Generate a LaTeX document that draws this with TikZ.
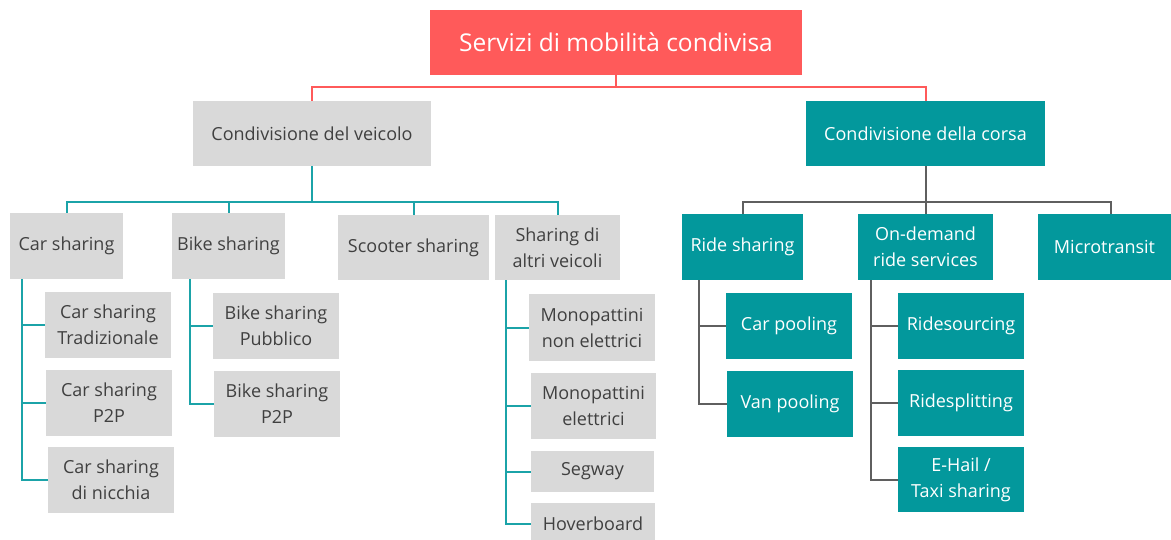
\documentclass[tikz,border=0pt]{standalone}
\usepackage{fontspec}
\setmainfont{Open Sans}
\usepackage{tikz}
\usetikzlibrary{calc}
\definecolor{rosso}{HTML}{FF5A5A}
\definecolor{grigio}{HTML}{D9D9D9}
\definecolor{verde}{HTML}{03989C}
\definecolor{testo}{HTML}{404040}
\definecolor{lineaverde}{HTML}{1BA3A8}
\definecolor{lineagrigia}{HTML}{5F5F5F}
\tikzset{
  boxbase/.style={rectangle, inner sep=0pt, align=center, font=\fontsize{18}{26}\selectfont, minimum height=66pt},
  greybox/.style={boxbase, fill=grigio, text=testo},
  tealbox/.style={boxbase, fill=verde, text=white},
  rootbox/.style={boxbase, fill=rosso, text=white, font=\fontsize{24.5}{28}\selectfont},
  redline/.style={draw=rosso, line width=2pt},
  tealline/.style={draw=lineaverde, line width=2pt},
  greyline/.style={draw=lineagrigia, line width=2pt}
}
\begin{document}
\begin{tikzpicture}[x=1pt,y=-1pt]
        \useasboundingbox[fill=white] (0,0) rectangle (1171,539);

        % Radice
        \node[rootbox, minimum width=372pt, minimum height=65pt] (root) at (616,42.5) {Servizi di mobilità condivisa};
        \node[greybox, minimum width=238pt, minimum height=65pt] (cv) at (312,133.5) {Condivisione del veicolo};
        \node[tealbox, minimum width=239pt, minimum height=65pt] (cc) at (925.5,133.5) {Condivisione della corsa};
        \draw[redline] (root.south) -- ++(0,12) -| (cv.north);
        \draw[redline] (root.south) -- ++(0,12) -| (cc.north);

        % Condivisione del veicolo
        \node[greybox, minimum width=113pt] (cs) at (66.5,246) {Car sharing};
        \node[greybox, minimum width=113pt] (bs) at (228.5,246) {Bike sharing};
        \node[greybox, minimum width=151pt, minimum height=65pt] (ss) at (413.5,247.5) {Scooter sharing};
        \node[greybox, minimum width=125pt, minimum height=65pt] (sa) at (557.5,247.5) {Sharing di\\altri veicoli};
        \foreach \n in {cs,bs,ss,sa}
            \draw[tealline] (cv.south) -- ++(0,36) -| (\n.north);

        \node[greybox, minimum width=126pt] (cs1) at (108,325) {Car sharing\\Tradizionale};
        \node[greybox, minimum width=126pt] (cs2) at (109,403) {Car sharing\\P2P};
        \node[greybox, minimum width=126pt] (cs3) at (111,480) {Car sharing\\di nicchia};
        \foreach \n in {cs1,cs2,cs3}
            \draw[tealline] ([xshift=12pt]cs.south west) |- (\n.west);

        \node[greybox, minimum width=126pt] (bs1) at (276,325.5) {Bike sharing\\Pubblico};
        \node[greybox, minimum width=126pt] (bs2) at (277,404) {Bike sharing\\P2P};
        \foreach \n in {bs1,bs2}
            \draw[tealline] ([xshift=18pt]bs.south west) |- (\n.west);

        \node[greybox, minimum width=126pt, minimum height=67pt] (sa1) at (592,327.5) {Monopattini\\non elettrici};
        \node[greybox, minimum width=125pt] (sa2) at (593.5,406) {Monopattini\\elettrici};
        \node[greybox, minimum width=123pt, minimum height=41pt] (sa3) at (592.5,471.5) {Segway};
        \node[greybox, minimum width=124pt, minimum height=41pt] (sa4) at (593,523.5) {Hoverboard};
        \foreach \n in {sa1,sa2,sa3,sa4}
            \draw[tealline] ([xshift=11pt]sa.south west) |- (\n.west);

        % Condivisione della corsa
        \node[tealbox, minimum width=121pt] (rs) at (742.5,247) {Ride sharing};
        \node[tealbox, minimum width=135pt] (od) at (925.5,247) {On-demand\\ride services};
        \node[tealbox, minimum width=133pt] (mt) at (1104.5,247) {Microtransit};
        \draw[greyline] (cc.south) -- ++(0,36) -| (rs.north);
        \draw[greyline] (cc.south) -- ++(0,36) -| (od.north);
        \draw[greyline] (cc.south) -- ++(0,36) -| ([xshift=6.5pt]mt.north);

        \node[tealbox, minimum width=126pt] (rs1) at (789,326) {Car pooling};
        \node[tealbox, minimum width=126pt] (rs2) at (790,404) {Van pooling};
        \foreach \n in {rs1,rs2}
            \draw[greyline] ([xshift=17pt]rs.south west) |- (\n.west);

        \node[tealbox, minimum width=126pt] (od1) at (961,326) {Ridesourcing};
        \node[tealbox, minimum width=126pt] (od2) at (961,403) {Ridesplitting};
        \node[tealbox, minimum width=126pt, minimum height=65pt] (od3) at (961,479.5) {E-Hail /\\Taxi sharing};
        \foreach \n in {od1,od2,od3}
            \draw[greyline] ([xshift=13pt]od.south west) |- (\n.west);
    \end{tikzpicture}
\end{document}
